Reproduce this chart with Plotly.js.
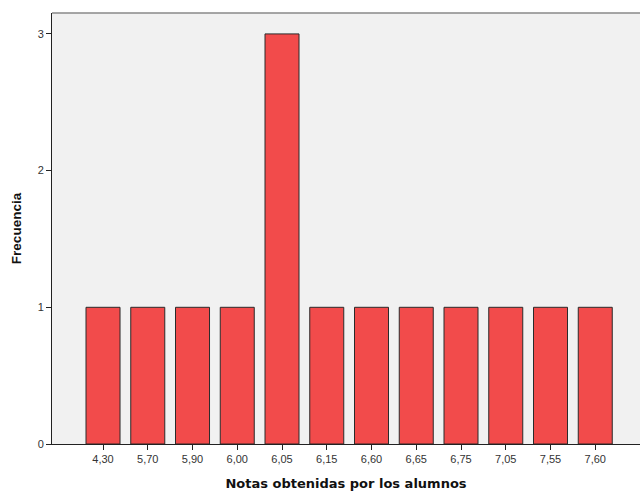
<!DOCTYPE html>
<html>
<head>
<meta charset="utf-8">
<script src="https://cdn.plot.ly/plotly-3.0.1.min.js"></script>
<style>html,body{margin:0;padding:0;background:#fff}#chart{width:640px;height:492px}</style>
</head>
<body>
<div id="chart"></div>
<script>
const categories = ["4,30","5,70","5,90","6,00","6,05","6,15","6,60","6,65","6,75","7,05","7,55","7,60"];
const frequencies = [1,1,1,1,3,1,1,1,1,1,1,1];
const yTicks = [0,1,2,3];

const trace = {
  type: 'bar',
  x: categories,
  y: frequencies,
  width: 0.76,
  marker: {color: '#F24B4B', line: {color: '#2b2b2b', width: 1}},
  hoverinfo: 'x+y'
};

const layout = {
  width: 640, height: 492,
  margin: {l: 52, r: 0, t: 13, b: 48},
  paper_bgcolor: '#ffffff',
  plot_bgcolor: '#f1f1f1',
  font: {family: 'Liberation Sans, Arial, sans-serif', size: 11, color: '#333'},
  showlegend: false,
  xaxis: {
    type: 'category',
    range: [-1.14, 12.0],
    showgrid: false, zeroline: false,
    showline: true, linecolor: '#222', linewidth: 1,
    ticks: 'outside', ticklen: 5, tickcolor: '#222',
    tickfont: {size: 11, color: '#333'},
    title: {text: 'Notas obtenidas por los alumnos', font: {family: 'DejaVu Sans, Verdana, sans-serif', size: 13, color: '#111', weight: 'bold'}, standoff: 14}
  },
  yaxis: {
    range: [0, 3.153],
    tickvals: yTicks,
    ticktext: yTicks.map(String),
    showgrid: false, zeroline: false,
    showline: true, linecolor: '#222', linewidth: 1,
    ticks: 'outside', ticklen: 5, tickcolor: '#222',
    tickfont: {size: 11, color: '#333'},
    title: {text: 'Frecuencia', font: {size: 13.5, color: '#111', weight: 'bold'}, standoff: 12}
  },
  shapes: [{type: 'line', xref: 'paper', yref: 'paper', x0: 0, x1: 1, y0: 1, y1: 1, line: {color: '#888', width: 1.5}}]
};

Plotly.newPlot('chart', [trace], layout, {displayModeBar: false, staticPlot: true});
</script>
</body>
</html>
